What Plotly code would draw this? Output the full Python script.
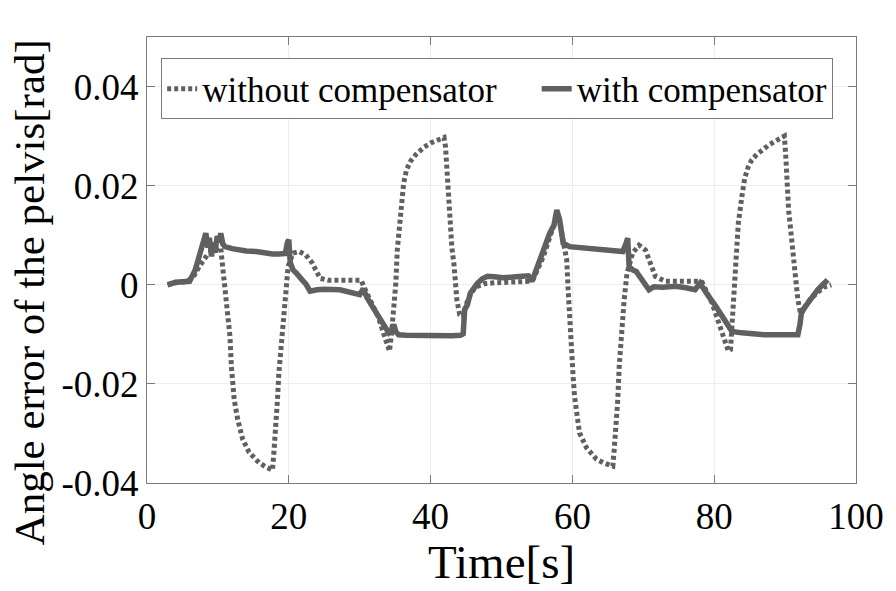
import plotly.graph_objects as go

# ---------------- data ----------------
t_with = [2.9, 4, 5, 6, 6.8, 7.5, 8.0, 8.3, 8.6, 8.8, 9.1, 9.3, 9.6, 9.9, 10.2, 10.4, 10.7, 11.0,
          12, 13, 14, 15.4, 16.5, 17.7, 18.7, 19.5, 19.8, 20.0, 20.2, 20.6, 21.1, 21.5, 22.0, 22.4,
          23.0, 24.0, 25, 27.2, 28.5, 30.0, 30.5, 31.0, 31.8, 32.5, 33.2, 34.1, 34.5, 34.8, 35.1,
          35.5, 36.5, 38.8, 41, 43, 44.2, 44.6, 44.8, 45.2, 45.6, 46.0, 46.6, 47.3, 48, 49, 50.2,
          52, 53.8, 54.3, 55.4, 56.2, 56.8, 57.4, 57.8, 58.2, 58.7, 59.6, 61, 62.9, 65, 67.1, 67.6,
          67.8, 68.0, 68.5, 69, 69.5, 69.9, 70.3, 70.8, 71.5, 72.7, 74.6, 76, 77.3, 78.0, 78.6,
          79.2, 80.2, 81.1, 82.0, 82.5, 83.9, 85.5, 87.1, 89.5, 91.8, 92.1, 92.3, 92.8, 93.2, 93.9,
          94.6, 95.3, 96.0]
y_with = [0.0, 0.0005, 0.0006, 0.0007, 0.003, 0.0065, 0.009, 0.0104, 0.0075, 0.0095, 0.0057, 0.0085,
          0.0065, 0.0098, 0.0085, 0.0104, 0.0082, 0.0077,
          0.0073, 0.0070, 0.0068, 0.0067, 0.0064, 0.0062, 0.0062, 0.0063, 0.0085, 0.0091, 0.0045,
          0.003, 0.0023, 0.0015, 0.0008, 0.0002,
          -0.0013, -0.0010, -0.0009, -0.001, -0.0015, -0.002, -0.0008, -0.0025, -0.0044, -0.006,
          -0.0077, -0.0097, -0.0092, -0.008, -0.0095,
          -0.0101, -0.0102, -0.0103, -0.0104, -0.0103, -0.0102, -0.0099, -0.005, -0.004, -0.0017,
          -0.0008, 0.0003, 0.0012, 0.0017, 0.0016, 0.0014,
          0.0016, 0.0018, 0.0007, 0.005, 0.0075, 0.0104, 0.012, 0.0151, 0.0131, 0.0084, 0.0077,
          0.0075, 0.0074, 0.0071, 0.0067, 0.0085,
          0.0094, 0.0037, 0.003, 0.0027, 0.0015, 0.001, 0.0, -0.001, -0.0004, -0.0005, -0.0003,
          -0.0006, -0.001, 0.0003, -0.0012,
          -0.0023, -0.0043, -0.0064, -0.0087, -0.0094, -0.0097, -0.0099, -0.0101, -0.0101, -0.0101,
          -0.008, -0.0057, -0.0045, -0.0037, -0.0022,
          -0.001, 0.0, 0.001]

t_without = [2.9, 4, 5.5, 6.5, 7.5, 8.5, 9.5, 10.4, 10.5, 10.9, 11.1, 11.4, 11.7, 11.9, 12.1, 12.3,
             12.8, 13.5, 14.4, 15.1, 15.8, 16.7, 17.7, 17.9, 18.2, 18.4, 18.6, 18.9, 19.1, 19.3,
             19.6, 19.9, 20.6, 21.5, 22.4, 23.3, 24.4, 25.6, 29.8, 30.2, 31.2, 32.6, 33.5, 34.2,
             34.5, 34.9, 35.1, 35.3, 35.6, 35.9, 36.2, 36.6, 37.2, 38.0, 39.1, 40.0, 41.0, 41.9,
             42.1, 42.3, 42.5, 42.8, 43.0, 43.3, 43.7, 44.1, 44.6, 45.0, 45.6, 46.3, 47.5, 49, 52,
             54, 54.5, 55.9, 57.3, 58.0, 58.3, 58.9, 59.2, 59.4, 59.6, 59.9, 60.1, 60.3, 60.6, 61.0,
             62.0, 63.4, 64.5, 65.7, 65.9, 66.2, 66.4, 66.6, 66.9, 67.3, 67.7, 68.5, 69.4, 70.3,
             71.7, 73.1, 77.8, 78.3, 79.7, 81.1, 82.0, 82.3, 82.6, 82.8, 83.1, 83.4, 83.9, 84.3,
             84.8, 85.3, 86.0, 86.7, 87.6, 88.5, 89.3, 89.9, 90.1, 90.3, 90.5, 90.9, 91.1, 91.4,
             91.8, 92.2, 92.8, 93.5, 94.6, 95.5, 96.5]
y_without = [0.0, 0.0004, 0.0006, 0.0015, 0.004, 0.006, 0.007, 0.0075, 0.006, 0.001, -0.003, -0.0064,
             -0.0104, -0.0165, -0.0205, -0.0232,
             -0.0272, -0.0312, -0.0338, -0.035, -0.0359, -0.0367, -0.0374, -0.0338, -0.0285,
             -0.0232, -0.0178, -0.0124, -0.0084, -0.0044,
             -0.0003, 0.0037, 0.0064, 0.0067, 0.006, 0.0044, 0.0013, 0.0009, 0.0009, 0.0009,
             -0.0023, -0.0064, -0.0104, -0.0134,
             -0.0097, -0.0044, 0.0004, 0.007, 0.0125, 0.0178, 0.0205, 0.0232, 0.025, 0.0264,
             0.0278, 0.0286, 0.0292, 0.0297,
             0.0279, 0.0232, 0.0178, 0.0115, 0.0075, 0.004, -0.003, -0.006, -0.0065, -0.004,
             -0.002, -0.0005, 0.0002, 0.0004, 0.0005,
             0.0007, 0.0012, 0.0057, 0.0117, 0.0138, 0.012, 0.0077, 0.005, -0.001, -0.007, -0.0131,
             -0.0185, -0.0225, -0.0258, -0.0299,
             -0.0329, -0.0352, -0.036, -0.0366, -0.0332, -0.0285, -0.0232, -0.0165, -0.0097,
             -0.003, 0.0023, 0.0064, 0.008, 0.007,
             0.0017, 0.0007, 0.0007, 0.0005, -0.0037, -0.0097, -0.0134, -0.0131, -0.0064, 0.0003,
             0.006, 0.0124, 0.0178, 0.0215,
             0.0238, 0.0252, 0.0263, 0.0272, 0.0281, 0.0289, 0.0295, 0.030, 0.0258, 0.0205, 0.015,
             0.0095, 0.006, 0.0025,
             -0.003, -0.006, -0.0045, -0.003, -0.0015, -0.0005, 0.0]

x_ticks = [0, 20, 40, 60, 80, 100]
y_ticks = [-0.04, -0.02, 0, 0.02, 0.04]
y_tick_text = ["-0.04", "-0.02", "0", "0.02", "0.04"]

FONT = "Liberation Serif"
LINE = "#606060"
NB = "\u00a0"

fig = go.Figure()
fig.add_trace(go.Scatter(x=t_without, y=y_without, mode="lines",
                         name="without compensator" + NB * 4,
                         line=dict(color=LINE, width=5, dash="4px,3px")))
fig.add_trace(go.Scatter(x=t_with, y=y_with, mode="lines", name="with compensator",
                         line=dict(color=LINE, width=5.5)))

axis_common = dict(showline=True, linecolor="#7a7a7a", linewidth=1.2, mirror="ticks",
                   ticks="inside", ticklen=8, tickcolor="#7a7a7a", showgrid=True,
                   gridcolor="#ededed", gridwidth=1, zeroline=False,
                   tickfont=dict(family=FONT, size=37, color="black"))

fig.update_xaxes(range=[0, 100], tickvals=x_ticks, **axis_common)
fig.update_yaxes(range=[-0.04, 0.05], tickvals=y_ticks, ticktext=y_tick_text, **axis_common)

fig.update_layout(
    width=896, height=591,
    margin=dict(l=147, r=34, t=37, b=108),
    paper_bgcolor="white", plot_bgcolor="white",
    font=dict(family=FONT, color="black"),
    showlegend=True,
    legend=dict(orientation="h", x=0.02, y=0.952, xanchor="left", yanchor="top",
                bgcolor="white", bordercolor="#7a7a7a", borderwidth=1,
                font=dict(family=FONT, size=35, color="black"),
                itemwidth=30),
    annotations=[
        dict(text="Time[s]", xref="paper", yref="paper", x=0.5, y=-0.178,
             xanchor="center", yanchor="middle", showarrow=False,
             font=dict(family=FONT, size=47, color="black")),
        dict(text="Angle error of the pelvis[rad]", xref="paper", yref="paper",
             x=-0.166, y=0.428, xanchor="center", yanchor="middle", textangle=-90,
             showarrow=False, font=dict(family=FONT, size=43, color="black")),
    ],
)

fig.write_html("out.html")
